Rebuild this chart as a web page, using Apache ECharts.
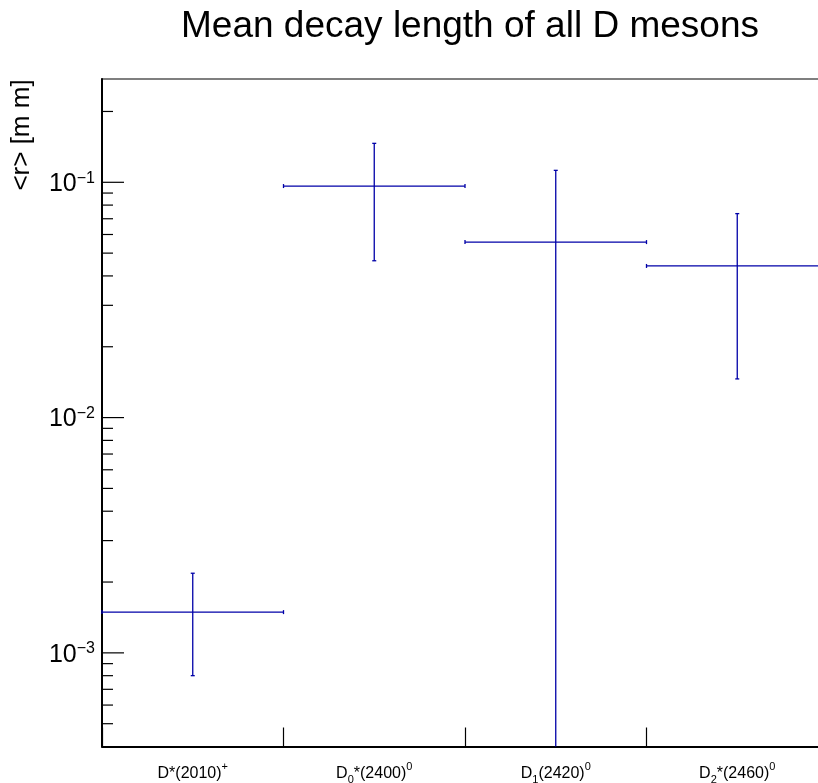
<!DOCTYPE html>
<html>
<head>
<meta charset="utf-8">
<script src="https://cdn.jsdelivr.net/npm/echarts@6/dist/echarts.min.js"></script>
<style>
html,body{margin:0;padding:0;background:#fff;overflow:hidden;width:818px;height:783px;}
#chart{width:830px;height:783px;}
</style>
</head>
<body>
<div id="chart"></div>
<script>
// ---- data ----
const categories = ['D*(2010)^{+}', 'D_{0}*(2400)^{0}', 'D_{1}(2420)^{0}', 'D_{2}*(2460)^{0}'];
const meanDecay = [0.00149, 0.0964, 0.0557, 0.0441];
const decayError = [0.00069, 0.0500, 0.0567, 0.0295];
const yMajorTicks = [1e-3, 1e-2, 1e-1];
const yTickLabels = ['10^{\u22123}', '10^{\u22122}', '10^{\u22121}'];
const yMinorTicks = [5e-4, 6e-4, 7e-4, 8e-4, 9e-4,
  2e-3, 3e-3, 4e-3, 5e-3, 6e-3, 7e-3, 8e-3, 9e-3,
  2e-2, 3e-2, 4e-2, 5e-2, 6e-2, 7e-2, 8e-2, 9e-2,
  2e-1];
const titleText = 'Mean decay length of all D mesons';
const yTitle = '<r> [m m]';
const yMin = 4.0e-4, yMax = 0.2748;

// ---- helpers ----
function toRich(s) {
  let out = '';
  let re = /([_^])\{([^}]*)\}/g;
  let last = 0, m;
  while ((m = re.exec(s)) !== null) {
    if (m.index > last) out += '{n|' + s.slice(last, m.index) + '}';
    out += (m[1] === '_' ? '{sub|' : '{sup|') + m[2] + '}';
    last = re.lastIndex;
  }
  if (last < s.length) out += '{n|' + s.slice(last) + '}';
  return out;
}

const FONT = '"Liberation Sans", Arial, Helvetica, sans-serif';
const BLUE = '#0000a8';

const chart = echarts.init(document.getElementById('chart'), null, {renderer: 'canvas'});

const barData = meanDecay.map((v, i) => [i, v, decayError[i]]);
const tickData = yMajorTicks.map((v, i) => [0, v, 1, i]).concat(yMinorTicks.map(v => [0, v, 0, -1]));

const option = {
  backgroundColor: '#ffffff',
  animation: false,
  title: {
    text: titleText,
    left: 465,
    top: 3,
    textAlign: 'center',
    textStyle: {fontFamily: FONT, fontSize: 37, fontWeight: 'normal', color: '#000'}
  },
  grid: {
    left: 102, top: 79, right: 2, bottom: 36.5,
    outerBoundsMode: 'none',
    containLabel: false,
    show: true, borderColor: '#000', borderWidth: 1.2, backgroundColor: 'transparent'
  },
  xAxis: {
    type: 'category',
    data: categories,
    boundaryGap: true,
    axisLine: {lineStyle: {color: '#000', width: 2}},
    axisTick: {show: true, inside: true, length: 19, alignWithLabel: false, lineStyle: {color: '#000', width: 1.2}},
    axisLabel: {
      margin: 15,
      interval: 0,
      color: '#000',
      fontFamily: FONT,
      fontSize: 16,
      formatter: v => toRich(v),
      rich: {
        n: {fontFamily: FONT, fontSize: 16, lineHeight: 24, color: '#000'},
        sub: {fontFamily: FONT, fontSize: 11, lineHeight: 11, verticalAlign: 'bottom', color: '#000'},
        sup: {fontFamily: FONT, fontSize: 11, lineHeight: 11, verticalAlign: 'top', color: '#000'}
      }
    },
    splitLine: {show: false}
  },
  yAxis: {
    type: 'log',
    logBase: 10,
    min: yMin,
    max: yMax,
    axisLine: {show: true, lineStyle: {color: '#000', width: 2}},
    axisTick: {show: false},
    axisLabel: {show: false},
    splitLine: {show: false}
  },
  graphic: [{
    type: 'text',
    x: 22,
    y: 135,
    rotation: Math.PI / 2,
    style: {
      text: yTitle,
      font: '26px ' + FONT,
      fill: '#000',
      align: 'center',
      verticalAlign: 'middle'
    }
  }],
  series: [
    {
      type: 'custom',
      name: 'yticks',
      clip: false,
      silent: true,
      data: tickData,
      encode: {x: 0, y: 1},
      renderItem: function (params, api) {
        const cs = params.coordSys;
        const v = api.value(1);
        const major = api.value(2) === 1;
        const y = api.coord([0, v])[1];
        const x0 = cs.x;
        const children = [{
          type: 'line',
          shape: {x1: x0, y1: y, x2: x0 + (major ? 22 : 11), y2: y},
          style: {stroke: '#000', lineWidth: 1.2}
        }];
        if (major) {
          const idx = api.value(3);
          const lab = yTickLabels[idx].replace(/\^\{([^}]*)\}/, '{e|$1}').replace(/^([^{]+)/, '{b|$1}');
          children.push({
            type: 'text',
            x: x0 - 7,
            y: y + 2,
            style: {
              text: lab,
              align: 'right',
              verticalAlign: 'middle',
              rich: {
                b: {fontFamily: FONT, fontSize: 25, lineHeight: 28, fill: '#000'},
                e: {fontFamily: FONT, fontSize: 16, lineHeight: 16, verticalAlign: 'top', fill: '#000'}
              }
            }
          });
        }
        return {type: 'group', children: children};
      }
    },
    {
      type: 'custom',
      name: 'mean decay length',
      clip: false,
      data: barData,
      encode: {x: 0, y: 1},
      renderItem: function (params, api) {
        const cs = params.coordSys;
        const i = api.value(0);
        const v = api.value(1);
        const e = api.value(2);
        const c = api.coord([i, v]);
        const hw = api.size([1, 0])[0] / 2;
        const hiV = Math.min(v + e, yMax);
        const loV = v - e;
        const yHi = api.coord([i, hiV])[1];
        const yBottom = cs.y + cs.height;
        const loClipped = !(loV > yMin);
        const yLo = loClipped ? yBottom : api.coord([i, loV])[1];
        const st = {stroke: BLUE, lineWidth: 1.3};
        const cap = 2;
        const xl = c[0] - hw, xr = Math.min(c[0] + hw, cs.x + cs.width);
        const ch = [
          {type: 'line', shape: {x1: xl, y1: c[1], x2: xr, y2: c[1]}, style: st},
          {type: 'line', shape: {x1: c[0], y1: yHi, x2: c[0], y2: yLo}, style: st},
          {type: 'line', shape: {x1: c[0] - cap, y1: yHi, x2: c[0] + cap, y2: yHi}, style: st},
          {type: 'line', shape: {x1: xl, y1: c[1] - cap, x2: xl, y2: c[1] + cap}, style: st},
          {type: 'line', shape: {x1: xr, y1: c[1] - cap, x2: xr, y2: c[1] + cap}, style: st}
        ];
        if (!loClipped) {
          ch.push({type: 'line', shape: {x1: c[0] - cap, y1: yLo, x2: c[0] + cap, y2: yLo}, style: st});
        }
        return {type: 'group', children: ch};
      }
    }
  ]
};

chart.setOption(option);
</script>
</body>
</html>
